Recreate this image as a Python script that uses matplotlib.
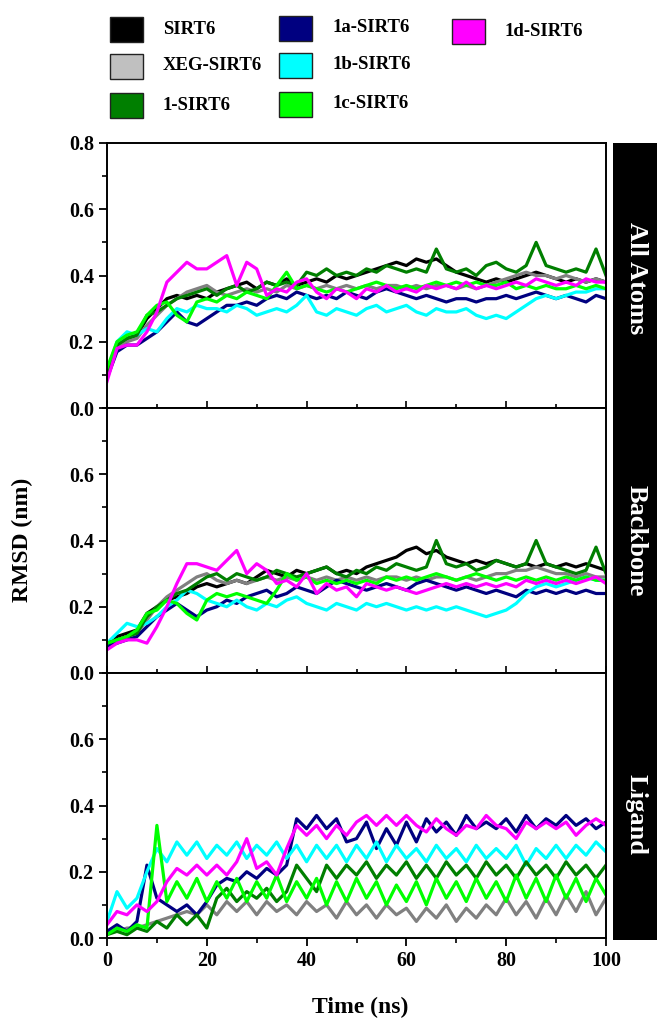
import matplotlib
matplotlib.use("Agg")
import matplotlib.pyplot as plt
from matplotlib.patches import Rectangle
from matplotlib.ticker import MultipleLocator
import numpy as np

plt.rcParams['font.family'] = ['Liberation Serif', 'DejaVu Serif']
plt.rcParams['font.weight'] = 'bold'

# time axis (ns), one sample every 2 ns
time_ns = np.arange(0, 101, 2)

names = ['SIRT6', 'XEG-SIRT6', '1-SIRT6', '1a-SIRT6', '1b-SIRT6', '1c-SIRT6', '1d-SIRT6']
line_colors = ['#000000', '#808080', '#007f00', '#000080', '#00ffff', '#00ff00', '#ff00ff']
legend_colors = ['#000000', '#c0c0c0', '#007f00', '#000080', '#00ffff', '#00ff00', '#ff00ff']
panel_titles = ['All Atoms', 'Backbone', 'Ligand']

############### All atoms RMSD (nm)
aa_sirt6 = [0.10,0.18,0.21,0.22,0.27,0.30,0.33,0.34,0.33,0.34,0.33,0.35,0.36,0.37,0.38,0.36,0.38,0.37,0.39,0.37,
            0.38,0.39,0.38,0.40,0.39,0.40,0.41,0.42,0.43,0.44,0.43,0.45,0.44,0.45,0.43,0.41,0.40,0.39,0.38,0.39,
            0.38,0.39,0.40,0.41,0.40,0.39,0.38,0.39,0.38,0.39,0.38]
aa_xeg = [0.10,0.18,0.20,0.21,0.25,0.28,0.31,0.33,0.35,0.36,0.37,0.35,0.34,0.35,0.36,0.35,0.36,0.35,0.37,0.36,
          0.37,0.36,0.37,0.36,0.37,0.36,0.37,0.36,0.37,0.37,0.36,0.37,0.36,0.37,0.37,0.36,0.37,0.36,0.37,0.38,
          0.39,0.40,0.41,0.40,0.40,0.39,0.40,0.39,0.38,0.39,0.38]
aa_1 = [0.10,0.19,0.21,0.22,0.28,0.29,0.31,0.33,0.34,0.35,0.36,0.34,0.36,0.37,0.35,0.36,0.38,0.37,0.38,0.37,
        0.41,0.40,0.42,0.40,0.41,0.40,0.42,0.41,0.43,0.42,0.41,0.42,0.41,0.48,0.42,0.41,0.42,0.40,0.43,0.44,
        0.42,0.41,0.43,0.50,0.43,0.42,0.41,0.42,0.41,0.48,0.40]
aa_1a = [0.09,0.17,0.19,0.19,0.21,0.23,0.26,0.29,0.26,0.25,0.27,0.29,0.31,0.31,0.32,0.31,0.33,0.34,0.33,0.35,
         0.34,0.33,0.34,0.33,0.35,0.34,0.33,0.35,0.36,0.35,0.34,0.33,0.34,0.33,0.32,0.33,0.33,0.32,0.33,0.33,
         0.34,0.33,0.34,0.35,0.34,0.33,0.34,0.33,0.32,0.34,0.33]
aa_1b = [0.11,0.20,0.23,0.22,0.24,0.23,0.27,0.30,0.29,0.31,0.30,0.30,0.29,0.31,0.30,0.28,0.29,0.30,0.29,0.31,
         0.34,0.29,0.28,0.30,0.29,0.28,0.30,0.31,0.29,0.30,0.31,0.29,0.28,0.30,0.29,0.29,0.30,0.28,0.27,0.28,
         0.27,0.29,0.31,0.33,0.34,0.33,0.34,0.35,0.35,0.36,0.36]
aa_1c = [0.12,0.20,0.22,0.23,0.28,0.31,0.32,0.28,0.26,0.32,0.33,0.32,0.34,0.33,0.35,0.34,0.33,0.37,0.41,0.36,
         0.37,0.36,0.35,0.36,0.35,0.36,0.37,0.38,0.37,0.36,0.37,0.36,0.37,0.38,0.37,0.38,0.37,0.38,0.37,0.37,
         0.38,0.36,0.37,0.36,0.37,0.36,0.36,0.37,0.36,0.37,0.36]
aa_1d = [0.08,0.18,0.19,0.19,0.23,0.29,0.38,0.41,0.44,0.42,0.42,0.44,0.46,0.37,0.44,0.42,0.34,0.36,0.35,0.38,
         0.39,0.35,0.33,0.36,0.35,0.33,0.36,0.35,0.37,0.35,0.36,0.35,0.37,0.36,0.37,0.36,0.38,0.36,0.37,0.36,
         0.37,0.38,0.37,0.39,0.38,0.37,0.38,0.37,0.39,0.38,0.38]

############### Backbone RMSD (nm)
bb_sirt6 = [0.08,0.11,0.12,0.13,0.18,0.20,0.22,0.23,0.24,0.26,0.27,0.26,0.27,0.28,0.27,0.29,0.31,0.30,0.29,0.31,
            0.30,0.31,0.32,0.30,0.31,0.30,0.32,0.33,0.34,0.35,0.37,0.38,0.36,0.37,0.35,0.34,0.33,0.34,0.33,0.34,
            0.33,0.32,0.33,0.32,0.33,0.32,0.33,0.32,0.33,0.32,0.31]
bb_xeg = [0.08,0.10,0.11,0.12,0.16,0.20,0.23,0.25,0.27,0.29,0.30,0.28,0.27,0.28,0.27,0.28,0.29,0.28,0.29,0.28,
          0.29,0.28,0.29,0.28,0.29,0.28,0.29,0.28,0.29,0.29,0.28,0.29,0.28,0.29,0.29,0.28,0.29,0.28,0.29,0.30,
          0.30,0.31,0.31,0.32,0.31,0.30,0.30,0.29,0.30,0.29,0.29]
bb_1 = [0.09,0.10,0.11,0.12,0.17,0.20,0.22,0.24,0.25,0.27,0.29,0.30,0.28,0.30,0.29,0.28,0.29,0.31,0.30,0.29,
        0.30,0.31,0.32,0.30,0.29,0.31,0.30,0.32,0.31,0.33,0.32,0.31,0.32,0.40,0.33,0.32,0.33,0.31,0.32,0.34,
        0.33,0.32,0.33,0.40,0.33,0.32,0.31,0.30,0.31,0.38,0.30]
bb_1a = [0.08,0.09,0.10,0.11,0.14,0.17,0.19,0.21,0.19,0.17,0.19,0.20,0.22,0.21,0.23,0.24,0.25,0.23,0.24,0.26,
         0.25,0.24,0.26,0.28,0.27,0.26,0.25,0.26,0.27,0.26,0.25,0.27,0.28,0.27,0.26,0.25,0.26,0.25,0.24,0.25,
         0.24,0.23,0.25,0.24,0.25,0.24,0.25,0.24,0.25,0.24,0.24]
bb_1b = [0.09,0.12,0.15,0.14,0.15,0.17,0.20,0.22,0.25,0.24,0.22,0.21,0.20,0.22,0.20,0.19,0.21,0.20,0.22,0.23,
         0.21,0.20,0.19,0.21,0.20,0.19,0.21,0.20,0.21,0.20,0.19,0.20,0.19,0.20,0.19,0.20,0.19,0.18,0.17,0.18,
         0.19,0.21,0.24,0.26,0.27,0.26,0.27,0.28,0.29,0.28,0.28]
bb_1c = [0.09,0.10,0.11,0.13,0.18,0.19,0.22,0.21,0.18,0.16,0.22,0.24,0.23,0.24,0.23,0.22,0.21,0.25,0.30,0.28,
         0.29,0.27,0.28,0.27,0.28,0.27,0.28,0.27,0.29,0.28,0.29,0.28,0.29,0.30,0.29,0.28,0.29,0.30,0.29,0.28,
         0.29,0.28,0.29,0.28,0.29,0.28,0.29,0.28,0.29,0.28,0.28]
bb_1d = [0.07,0.09,0.10,0.10,0.09,0.14,0.20,0.27,0.33,0.33,0.32,0.31,0.34,0.37,0.30,0.33,0.31,0.27,0.28,0.26,
         0.30,0.24,0.27,0.25,0.26,0.23,0.27,0.26,0.25,0.26,0.25,0.24,0.25,0.26,0.27,0.26,0.27,0.26,0.27,0.26,
         0.27,0.26,0.28,0.27,0.28,0.27,0.28,0.27,0.28,0.29,0.27]

############### Ligand RMSD (nm) - apo SIRT6 has no ligand
lig_sirt6 = None
lig_xeg = [0.02,0.02,0.03,0.03,0.04,0.05,0.06,0.07,0.08,0.07,0.10,0.07,0.11,0.08,0.11,0.07,0.11,0.08,0.10,0.07,
           0.11,0.08,0.10,0.06,0.11,0.07,0.10,0.06,0.10,0.07,0.09,0.05,0.09,0.06,0.10,0.05,0.09,0.06,0.10,0.07,
           0.12,0.07,0.11,0.06,0.12,0.07,0.13,0.08,0.14,0.07,0.12]
lig_1 = [0.01,0.02,0.01,0.03,0.02,0.05,0.03,0.07,0.04,0.07,0.03,0.12,0.15,0.11,0.14,0.12,0.15,0.11,0.14,0.22,
         0.18,0.14,0.22,0.18,0.22,0.19,0.23,0.18,0.22,0.19,0.23,0.18,0.22,0.18,0.23,0.19,0.22,0.18,0.23,0.19,
         0.22,0.18,0.23,0.19,0.22,0.18,0.23,0.19,0.22,0.18,0.22]
lig_1a = [0.02,0.04,0.02,0.05,0.22,0.12,0.10,0.08,0.10,0.07,0.11,0.16,0.18,0.17,0.20,0.18,0.21,0.19,0.22,0.36,
          0.33,0.37,0.33,0.36,0.29,0.30,0.35,0.27,0.33,0.28,0.35,0.29,0.36,0.32,0.35,0.31,0.37,0.33,0.35,0.33,
          0.36,0.32,0.37,0.33,0.36,0.34,0.37,0.34,0.36,0.33,0.35]
lig_1b = [0.05,0.14,0.09,0.12,0.20,0.27,0.23,0.29,0.25,0.29,0.24,0.28,0.25,0.29,0.24,0.28,0.25,0.29,0.24,0.28,
          0.23,0.28,0.24,0.28,0.23,0.28,0.24,0.29,0.23,0.28,0.24,0.27,0.23,0.28,0.24,0.27,0.23,0.28,0.24,0.27,
          0.24,0.28,0.22,0.27,0.24,0.28,0.24,0.28,0.25,0.29,0.26]
lig_1c = [0.01,0.03,0.02,0.04,0.03,0.34,0.11,0.17,0.12,0.18,0.11,0.17,0.12,0.18,0.11,0.17,0.12,0.19,0.11,0.17,
          0.12,0.18,0.10,0.17,0.11,0.18,0.12,0.17,0.10,0.16,0.11,0.17,0.10,0.18,0.12,0.17,0.11,0.18,0.12,0.17,
          0.11,0.19,0.12,0.18,0.11,0.19,0.12,0.18,0.11,0.18,0.13]
lig_1d = [0.04,0.08,0.07,0.10,0.08,0.11,0.17,0.21,0.19,0.22,0.19,0.22,0.19,0.23,0.30,0.21,0.23,0.19,0.27,0.34,
          0.31,0.34,0.30,0.34,0.31,0.35,0.37,0.34,0.37,0.34,0.37,0.34,0.32,0.36,0.33,0.31,0.34,0.33,0.37,0.34,
          0.33,0.30,0.35,0.33,0.35,0.33,0.35,0.31,0.34,0.36,0.34]

panels = [[aa_sirt6, aa_xeg, aa_1, aa_1a, aa_1b, aa_1c, aa_1d],
          [bb_sirt6, bb_xeg, bb_1, bb_1a, bb_1b, bb_1c, bb_1d],
          [lig_sirt6, lig_xeg, lig_1, lig_1a, lig_1b, lig_1c, lig_1d]]

draw_order = [0, 1, 3, 4, 2, 5, 6]  # black, gray, navy, cyan, dark green, green, magenta

W, H = 657, 1023
fig = plt.figure(figsize=(W/100, H/100), dpi=100)

def fx(x): return x / W
def fy(y): return 1 - y / H

left, right = 107, 606
tops = [143, 408, 673]
ph = 265

for k in range(3):
    ax = fig.add_axes([fx(left), fy(tops[k] + ph), fx(right - left), ph / H])
    for i in draw_order:
        s = panels[k][i]
        if s is None:
            continue
        ax.plot(time_ns, s, color=line_colors[i], lw=2.3)
    ax.set_xlim(0, 100)
    ax.set_ylim(0, 0.8)
    ax.set_yticks([0, 0.2, 0.4, 0.6, 0.8] if k == 0 else [0, 0.2, 0.4, 0.6])
    ax.yaxis.set_minor_locator(MultipleLocator(0.1))
    ax.xaxis.set_major_locator(MultipleLocator(20))
    ax.xaxis.set_minor_locator(MultipleLocator(10))
    for sp in ax.spines.values():
        sp.set_linewidth(1.4)
    ax.tick_params(axis='y', which='major', direction='out', length=6, width=1.3, labelsize=14.5)
    ax.tick_params(axis='y', which='minor', direction='out', length=3.5, width=1.2)
    if k < 2:
        ax.tick_params(axis='x', which='both', direction='in', labelbottom=False, width=1.2)
        ax.tick_params(axis='x', which='major', length=5)
        ax.tick_params(axis='x', which='minor', length=3)
    else:
        ax.tick_params(axis='x', which='major', direction='out', length=6, width=1.3, labelsize=14.5)
        ax.tick_params(axis='x', which='minor', direction='out', length=3.5, width=1.2)
        ax.set_xticklabels([f'{int(v)}' for v in ax.get_xticks()])
    ax.set_yticklabels([f'{v:.1f}' for v in ax.get_yticks()])

# right-hand black strip with panel names
fig.add_artist(Rectangle((fx(613), fy(940)), fx(W - 613), (940 - 143) / H,
                         transform=fig.transFigure, facecolor='black', edgecolor='none'))
for k, yc in enumerate([278, 541, 815]):
    fig.text(fx(636), fy(yc), panel_titles[k], color='white', fontsize=19, rotation=-90,
             ha='center', va='center')

fig.text(fx(22), fy(540), 'RMSD (nm)', fontsize=17, rotation=90, ha='center', va='center')
fig.text(fx(360), fy(1007), 'Time (ns)', fontsize=17, ha='center', va='center')

# legend: three columns of square patches
leg_px = [(110, 29), (110, 66), (110, 105), (279, 28), (279, 65), (279, 104), (452, 31)]
for i, (px, py) in enumerate(leg_px):
    fig.add_artist(Rectangle((fx(px), fy(py + 12.5)), fx(33), 25 / H, transform=fig.transFigure,
                             facecolor=legend_colors[i], edgecolor='#222222', lw=1.0))
    fig.text(fx(px + 53), fy(py), names[i], fontsize=13.5, ha='left', va='center')

fig.savefig('out.png', dpi=100)
